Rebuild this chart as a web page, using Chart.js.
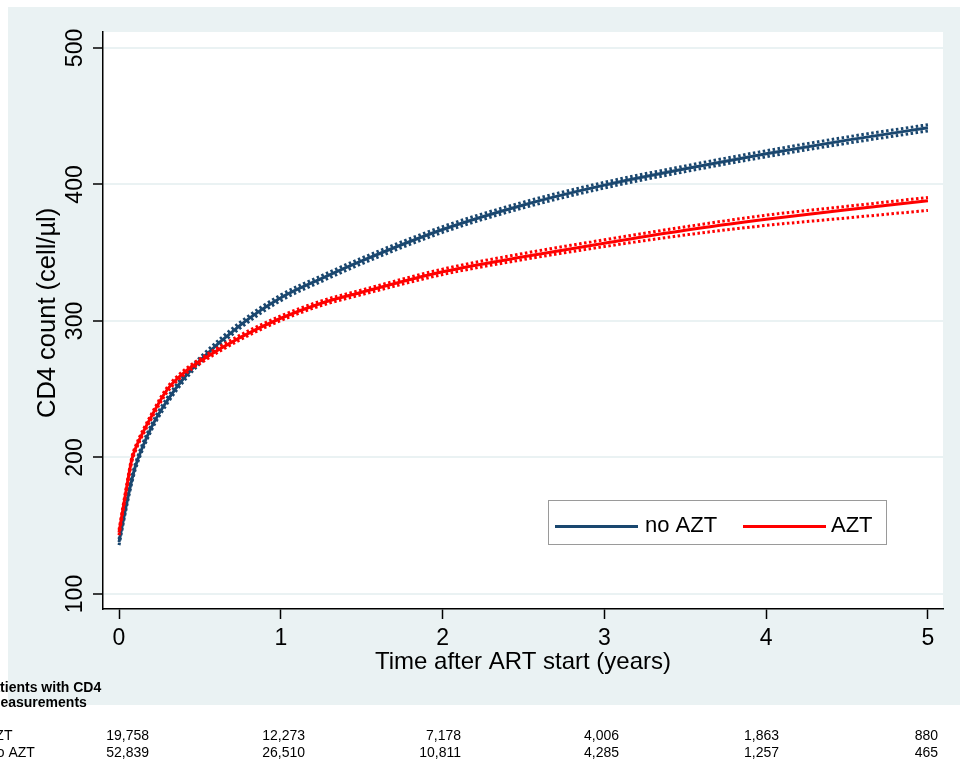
<!DOCTYPE html>
<html>
<head>
<meta charset="utf-8">
<script src="https://cdn.jsdelivr.net/npm/chart.js@4.4.1/dist/chart.umd.min.js"></script>
<style>
html, body { margin: 0; padding: 0; background: #fff; }
#wrap { width: 960px; height: 764px; position: relative; }
</style>
</head>
<body>
<div id="wrap"><canvas id="chart"></canvas></div>
<script>
// years after ART start
const years = [0, 0.05, 0.08, 0.1, 0.2, 0.3, 0.4, 0.5, 0.75, 1, 1.25, 1.5, 2, 2.5, 3, 3.5, 4, 4.5, 5];

// no AZT: fitted CD4 count and its band
const noAzt     = [138, 168, 184, 193, 222, 242, 258, 271, 297, 317, 331, 344, 367, 385, 399.5, 411.5, 422.5, 432.5, 441.5];
const noAztLow  = [135.8, 165.9, 181.9, 190.9, 219.9, 239.9, 255.9, 268.9, 294.9, 314.9, 328.9, 341.9, 364.9, 382.9, 397.4, 409.4, 420.3, 430.2, 439.2];
const noAztHigh = [140.2, 170.1, 186.1, 195.1, 224.1, 244.1, 260.1, 273.1, 299.1, 319.1, 333.1, 346.1, 369.1, 387.1, 401.6, 413.6, 424.7, 434.8, 443.8];

// AZT: fitted CD4 count and its band
const azt     = [145, 180, 199, 206, 230, 250, 262, 270.5, 288, 302, 313, 321, 336, 347, 357, 366.5, 374.5, 381.5, 388];
const aztLow  = [143, 178.3, 197.3, 204.3, 228.3, 248.3, 260.3, 268.8, 286.3, 300.3, 311.3, 319.3, 334, 345, 354.5, 363, 370, 375.5, 381];
const aztHigh = [147, 181.7, 200.7, 207.7, 231.7, 251.7, 263.7, 272.2, 289.7, 303.7, 314.7, 322.7, 338, 349.5, 359.5, 369, 377.5, 384, 390.5];

const xTicks = [0, 1, 2, 3, 4, 5];
const yTicks = [100, 200, 300, 400, 500];

// patients with CD4 measurements at each year
const countAzt   = ["19,758", "12,273", "7,178", "4,006", "1,863", "880"];
const countNoAzt = ["52,839", "26,510", "10,811", "4,285", "1,257", "465"];

const FONT = '"Liberation Sans", Arial, sans-serif';
const BLUE = "#1a476f";
const RED = "#ff0000";
const BG = "#eaf2f3";

const pts = (ys) => years.map((x, i) => ({ x: x, y: ys[i] }));

const background = {
    id: "background",
    beforeDraw(chart) {
        const { ctx, chartArea: a } = chart;
        ctx.save();
        ctx.fillStyle = "#fff";
        ctx.fillRect(0, 0, chart.width, chart.height);
        ctx.fillStyle = BG;
        ctx.fillRect(8, 7, chart.width - 8, 698);
        ctx.fillStyle = "#fff";
        ctx.fillRect(a.left, a.top, a.right - a.left, a.bottom - a.top);
        ctx.restore();
    },
};

const extras = {
    id: "extras",
    afterDraw(chart) {
        const { ctx } = chart;
        const y = chart.scales.y;
        ctx.save();

        // rotated y tick labels
        ctx.fillStyle = "#000";
        ctx.font = "23px " + FONT;
        ctx.textAlign = "center";
        ctx.textBaseline = "middle";
        y.ticks.forEach((t) => {
            ctx.save();
            ctx.translate(76, y.getPixelForValue(t.value));
            ctx.rotate(-Math.PI / 2);
            ctx.fillText(String(t.value), 0, 0);
            ctx.restore();
        });

        // y axis title, reading upwards from its start
        ctx.save();
        ctx.font = "25.5px " + FONT;
        ctx.textAlign = "left";
        ctx.translate(48, 418);
        ctx.rotate(-Math.PI / 2);
        ctx.fillText("CD4 count (cell/µl)", 0, 0);
        ctx.restore();

        // legend
        ctx.fillStyle = "#fff";
        ctx.fillRect(548, 500, 338, 44);
        ctx.strokeStyle = "#9a9a9a";
        ctx.lineWidth = 1;
        ctx.strokeRect(548.5, 500.5, 338, 44);
        const items = [
            { label: chart.data.datasets[0].label, color: chart.data.datasets[0].borderColor, x0: 555, x1: 638, tx: 645 },
            { label: chart.data.datasets[3].label, color: chart.data.datasets[3].borderColor, x0: 743, x1: 826, tx: 831 },
        ];
        ctx.font = "22px " + FONT;
        ctx.textAlign = "left";
        items.forEach((it) => {
            ctx.strokeStyle = it.color;
            ctx.lineWidth = 3;
            ctx.beginPath();
            ctx.moveTo(it.x0, 526.5);
            ctx.lineTo(it.x1, 526.5);
            ctx.stroke();
            ctx.fillStyle = "#000";
            ctx.fillText(it.label, it.tx, 526);
        });

        // table of patients below the chart
        ctx.font = "bold 14px " + FONT;
        ctx.textAlign = "left";
        ctx.fillText("Patients with CD4", -17, 688);
        ctx.fillText("measurements", -12, 703);
        ctx.font = "14px " + FONT;
        ctx.fillText("AZT", -14, 736);
        ctx.fillText("no AZT", -11, 753);
        const cols = [149, 305, 461, 619, 779, 938];
        ctx.textAlign = "right";
        countAzt.forEach((v, i) => ctx.fillText(v, cols[i], 736));
        countNoAzt.forEach((v, i) => ctx.fillText(v, cols[i], 753));
        ctx.restore();
    },
};

const fitLine = (label, data, color, order) => ({
    label: label,
    data: pts(data),
    borderColor: color,
    borderWidth: 3,
    pointRadius: 0,
    cubicInterpolationMode: "monotone",
    order: order,
});

const bandLine = (label, data, color, order) => ({
    label: label,
    data: pts(data),
    borderColor: color,
    borderWidth: 3,
    borderDash: [2.5, 2.5],
    pointRadius: 0,
    cubicInterpolationMode: "monotone",
    order: order,
});

new Chart(document.getElementById("chart"), {
    type: "line",
    data: {
        datasets: [
            fitLine("no AZT", noAzt, BLUE, 3),
            bandLine("no AZT low", noAztLow, BLUE, 2),
            bandLine("no AZT high", noAztHigh, BLUE, 2),
            fitLine("AZT", azt, RED, 1),
            bandLine("AZT low", aztLow, RED, 0),
            bandLine("AZT high", aztHigh, RED, 0),
        ],
    },
    options: {
        responsive: true,
        maintainAspectRatio: false,
        animation: false,
        layout: { padding: { top: 32, right: 17, left: 0, bottom: 0 } },
        plugins: {
            legend: { display: false },
            tooltip: { enabled: false },
        },
        scales: {
            x: {
                type: "linear",
                min: -0.099,
                max: 5.093,
                afterBuildTicks: (s) => { s.ticks = xTicks.map((v) => ({ value: v })); },
                afterFit: (s) => { s.height = 155; },
                grid: { drawOnChartArea: false, drawTicks: true, tickLength: 10, tickColor: "#000", tickWidth: 1.5 },
                border: { color: "#000", width: 1.5 },
                ticks: { color: "#000", font: { family: FONT, size: 23 }, padding: 6, maxRotation: 0 },
                title: {
                    display: true,
                    text: "Time after ART start (years)",
                    color: "#000",
                    font: { family: FONT, size: 24 },
                    padding: { top: 0, bottom: 87.6 },
                },
            },
            y: {
                type: "linear",
                min: 89,
                max: 511.7,
                afterBuildTicks: (s) => { s.ticks = yTicks.map((v) => ({ value: v })); },
                afterFit: (s) => { s.width = 103; },
                grid: { color: BG, lineWidth: 2, drawTicks: true, tickLength: 10, tickColor: "#000", tickWidth: 1.5 },
                border: { color: "#000", width: 1.5 },
                ticks: { display: false },
                title: { display: false },
            },
        },
    },
    plugins: [background, extras],
});
</script>
</body>
</html>
